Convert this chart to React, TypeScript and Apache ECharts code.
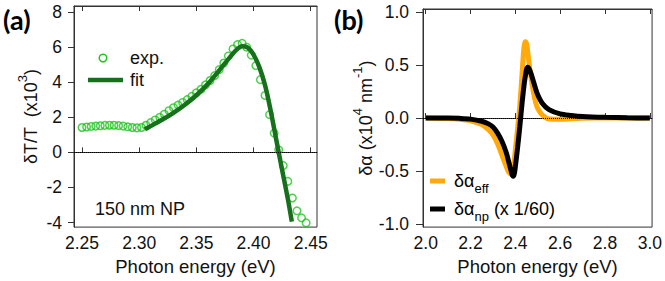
import React, { useEffect, useRef } from "react";
import * as echarts from "echarts";

// Panel (a): experimental δT/T (x10^3) vs photon energy (eV)
const expEnergy = [
  2.250, 2.254, 2.258, 2.262, 2.266, 2.270, 2.274, 2.278, 2.282, 2.286,
  2.290, 2.294, 2.298, 2.302, 2.306, 2.310, 2.314, 2.318, 2.322, 2.326,
  2.330, 2.334, 2.338, 2.342, 2.346, 2.350, 2.354, 2.358, 2.362, 2.366,
  2.370, 2.374, 2.378, 2.382, 2.386, 2.390, 2.394, 2.398, 2.402, 2.406,
  2.410, 2.414, 2.418, 2.422, 2.426, 2.430, 2.434, 2.438, 2.442, 2.446,
];
const expValues = [
  1.42, 1.45, 1.48, 1.50, 1.52, 1.54, 1.55, 1.55, 1.53, 1.50,
  1.46, 1.42, 1.40, 1.42, 1.55, 1.70, 1.85, 2.00, 2.18, 2.38,
  2.55, 2.70, 2.85, 3.01, 3.20, 3.40, 3.60, 3.85, 4.10, 4.38,
  4.72, 5.10, 5.50, 5.90, 6.15, 6.22, 6.00, 5.55, 4.95, 4.15,
  3.25, 2.15, 1.10, 0.15, -0.75, -1.65, -2.60, -3.33, -3.73, -4.02,
];
// Panel (a): fit
const fitEnergy = [
  2.305, 2.31, 2.32, 2.33, 2.34, 2.35, 2.36, 2.37, 2.38, 2.385,
  2.39, 2.395, 2.40, 2.405, 2.41, 2.415, 2.42, 2.425, 2.43, 2.4335,
];
const fitValues = [
  1.32, 1.50, 1.86, 2.26, 2.72, 3.26, 3.90, 4.68, 5.48, 5.85,
  6.05, 5.98, 5.58, 4.88, 3.85, 2.38, 0.68, -1.0, -2.65, -3.95,
];

// Panel (b): δα (x10^4 nm^-1) vs photon energy (eV)
const bEnergy = [
  2.0, 2.1, 2.15, 2.2, 2.25, 2.28, 2.30, 2.32, 2.34, 2.36,
  2.37, 2.38, 2.385, 2.39, 2.395, 2.40, 2.41, 2.42, 2.43, 2.435,
  2.44, 2.445, 2.45, 2.455, 2.46, 2.47, 2.48, 2.49, 2.50, 2.52,
  2.55, 2.6, 2.65, 2.7, 2.8, 2.9, 3.0,
];
const effValues = [
  0, -0.005, -0.012, -0.025, -0.06, -0.11, -0.16, -0.24, -0.35, -0.46,
  -0.51, -0.53, -0.52, -0.48, -0.40, -0.30, -0.10, 0.12, 0.42, 0.58,
  0.69, 0.72, 0.70, 0.63, 0.54, 0.38, 0.25, 0.15, 0.09, 0.03,
  -0.01, -0.012, -0.006, -0.002, 0, 0, 0,
];
const npValues = [
  0, 0, -0.003, -0.01, -0.03, -0.055, -0.085, -0.14, -0.22, -0.33,
  -0.41, -0.49, -0.53, -0.55, -0.53, -0.46, -0.28, -0.08, 0.14, 0.24,
  0.33, 0.40, 0.46, 0.48, 0.47, 0.42, 0.35, 0.28, 0.22, 0.14,
  0.08, 0.04, 0.025, 0.015, 0.007, 0.003, 0,
];

const aXTicks = [2.25, 2.3, 2.35, 2.4, 2.45];
const aYTicks = [-4, -2, 0, 2, 4, 6, 8];
const bXTicks = [2.0, 2.2, 2.4, 2.6, 2.8, 3.0];
const bYTicks = [-1.0, -0.5, 0.0, 0.5, 1.0];

const FONT = "Liberation Sans, Arial, Helvetica, sans-serif";
const AXIS_COLOR = "#333";
const EXP_COLOR = "#1fc41f";
const FIT_COLOR = "#17701b";
const EFF_COLOR = "#ffa90a";
const NP_COLOR = "#000000";

export default function App() {
  const ref = useRef<HTMLDivElement>(null);

  useEffect(() => {
    if (!ref.current) return;
    const chart = echarts.init(ref.current, undefined, { renderer: "svg" });

    const labelStyle = { fontFamily: FONT, fontSize: 17.5, color: "#111" };
    const nameStyleBase = { fontFamily: FONT, fontSize: 18.5, color: "#111" };

    const supRich = {
      b: { fontFamily: FONT, fontSize: 18, color: "#111", lineHeight: 30 },
      p: { fontFamily: FONT, fontSize: 13, color: "#111", lineHeight: 14, verticalAlign: "top" },
    };
    const subRich = {
      b: { fontFamily: FONT, fontSize: 18, color: "#111", lineHeight: 28 },
      s: { fontFamily: FONT, fontSize: 13, color: "#111", verticalAlign: "bottom" },
    };

    const zeroLine = {
      silent: true,
      symbol: ["none", "none"],
      label: { show: false },
      lineStyle: { type: "dotted", color: "#000", width: 1 },
      data: [{ yAxis: 0 }],
    };

    const option: any = {
      animation: false,
      grid: [
        { left: 74, top: 6, width: 243, height: 227, show: true, borderColor: AXIS_COLOR, borderWidth: 1, containLabel: false },
        { left: 423, top: 9, width: 230, height: 223, show: true, borderColor: AXIS_COLOR, borderWidth: 1, containLabel: false },
      ],
      xAxis: [
        {
          gridIndex: 0, type: "value", min: 2.243, max: 2.4555,
          axisLine: { show: true, lineStyle: { color: AXIS_COLOR } },
          axisTick: { show: true, inside: true, length: 5, customValues: aXTicks, lineStyle: { color: AXIS_COLOR } },
          axisLabel: { ...labelStyle, customValues: aXTicks, margin: 7, formatter: (v: number) => v.toFixed(2) },
          splitLine: { show: false },
          name: "Photon energy (eV)", nameLocation: "middle", nameGap: 24,
          nameTextStyle: nameStyleBase,
        },
        {
          gridIndex: 0, type: "value", position: "top", min: 2.243, max: 2.4555,
          axisLine: { show: true, lineStyle: { color: AXIS_COLOR } },
          axisTick: { show: true, inside: true, length: 5, customValues: aXTicks, lineStyle: { color: AXIS_COLOR } },
          axisLabel: { show: false },
          splitLine: { show: false },
        },
        {
          gridIndex: 1, type: "value", min: 1.988, max: 3.01,
          axisLine: { show: true, lineStyle: { color: AXIS_COLOR } },
          axisTick: { show: true, inside: true, length: 5, customValues: bXTicks, lineStyle: { color: AXIS_COLOR } },
          axisLabel: { ...labelStyle, customValues: bXTicks, margin: 7, formatter: (v: number) => v.toFixed(1) },
          splitLine: { show: false },
          name: "Photon energy (eV)", nameLocation: "middle", nameGap: 24,
          nameTextStyle: nameStyleBase,
        },
        {
          gridIndex: 1, type: "value", position: "top", min: 1.988, max: 3.01,
          axisLine: { show: true, lineStyle: { color: AXIS_COLOR } },
          axisTick: { show: true, inside: true, length: 5, customValues: bXTicks, lineStyle: { color: AXIS_COLOR } },
          axisLabel: { show: false },
          splitLine: { show: false },
        },
      ],
      yAxis: [
        {
          gridIndex: 0, type: "value", min: -4.26, max: 8.35,
          axisLine: { show: true, lineStyle: { color: AXIS_COLOR } },
          axisTick: { show: true, inside: false, length: 6, customValues: aYTicks, lineStyle: { color: AXIS_COLOR } },
          axisLabel: { ...labelStyle, customValues: aYTicks, margin: 12, formatter: (v: number) => String(v) },
          splitLine: { show: false },
          name: "{b|δT/T  (x10}{p|3}{b|)}", nameLocation: "middle", nameGap: 28, nameRotate: 90,
          nameTextStyle: { ...nameStyleBase, rich: supRich },
        },
        {
          gridIndex: 1, type: "value", min: -1.03, max: 1.03,
          axisLine: { show: true, lineStyle: { color: AXIS_COLOR } },
          axisTick: { show: true, inside: false, length: 7, customValues: bYTicks, lineStyle: { color: AXIS_COLOR } },
          axisLabel: { ...labelStyle, customValues: bYTicks, margin: 14, formatter: (v: number) => v.toFixed(1) },
          splitLine: { show: false },
          name: "{b|δα (x10}{p|4}{b| nm}{p|-1}{b|)}", nameLocation: "middle", nameGap: 38, nameRotate: 90,
          nameTextStyle: { ...nameStyleBase, rich: supRich },
        },
      ],
      series: [
        {
          name: "exp.", type: "scatter", xAxisIndex: 0, yAxisIndex: 0,
          data: expEnergy.map((e, i) => [e, expValues[i]]),
          symbol: "circle", symbolSize: 7.5,
          itemStyle: { color: "rgba(255,255,255,0)", borderColor: EXP_COLOR, borderWidth: 1.5 },
          markLine: zeroLine,
          z: 2,
        },
        {
          name: "fit", type: "line", xAxisIndex: 0, yAxisIndex: 0,
          data: fitEnergy.map((e, i) => [e, fitValues[i]]),
          showSymbol: false, smooth: 0.3,
          lineStyle: { color: FIT_COLOR, width: 4.5 },
          z: 3,
        },
        {
          name: "δα_eff", type: "line", xAxisIndex: 2, yAxisIndex: 1,
          data: bEnergy.map((e, i) => [e, effValues[i]]),
          showSymbol: false, smooth: 0.3,
          lineStyle: { color: EFF_COLOR, width: 5 },
          markLine: zeroLine,
          z: 2,
        },
        {
          name: "δα_np (x 1/60)", type: "line", xAxisIndex: 2, yAxisIndex: 1,
          data: bEnergy.map((e, i) => [e, npValues[i]]),
          showSymbol: false, smooth: 0.3,
          lineStyle: { color: NP_COLOR, width: 5 },
          z: 3,
        },
      ],
      graphic: [
        { type: "text", left: 3, top: 6, style: { text: "(a)", fontFamily: "Lato, Open Sans, sans-serif", fontWeight: "bold", fontSize: 27, fill: "#000" } },
        { type: "text", left: 334, top: 6, style: { text: "(b)", fontFamily: "Lato, Open Sans, sans-serif", fontWeight: "bold", fontSize: 27, fill: "#000" } },
        // panel (a) legend
        { type: "circle", shape: { cx: 103, cy: 58, r: 3.8 }, style: { fill: "none", stroke: EXP_COLOR, lineWidth: 1.5 } },
        { type: "text", x: 130, y: 58, style: { text: "exp.", fontFamily: FONT, fontSize: 18, fill: "#111", align: "left", verticalAlign: "middle" } },
        { type: "line", shape: { x1: 88, y1: 80, x2: 123, y2: 80 }, style: { stroke: FIT_COLOR, lineWidth: 4.5 } },
        { type: "text", x: 130, y: 80, style: { text: "fit", fontFamily: FONT, fontSize: 18, fill: "#111", align: "left", verticalAlign: "middle" } },
        { type: "text", x: 95, y: 209, style: { text: "150 nm NP", fontFamily: FONT, fontSize: 18, fill: "#111", align: "left", verticalAlign: "middle" } },
        // panel (b) legend
        { type: "line", shape: { x1: 430, y1: 181, x2: 445, y2: 181 }, style: { stroke: EFF_COLOR, lineWidth: 5 } },
        { type: "text", x: 454, y: 167, style: { text: "{b|δα}{s|eff}", rich: subRich, align: "left", verticalAlign: "top" } },
        { type: "line", shape: { x1: 430, y1: 209, x2: 445, y2: 209 }, style: { stroke: NP_COLOR, lineWidth: 5 } },
        { type: "text", x: 454, y: 195, style: { text: "{b|δα}{s|np}{b| (x 1/60)}", rich: subRich, align: "left", verticalAlign: "top" } },
      ],
    };

    chart.setOption(option);
    return () => chart.dispose();
  }, []);

  return (
    <div
      ref={ref}
      style={{ position: "fixed", left: 0, top: 0, width: 665, height: 281, background: "#fff" }}
    />
  );
}
